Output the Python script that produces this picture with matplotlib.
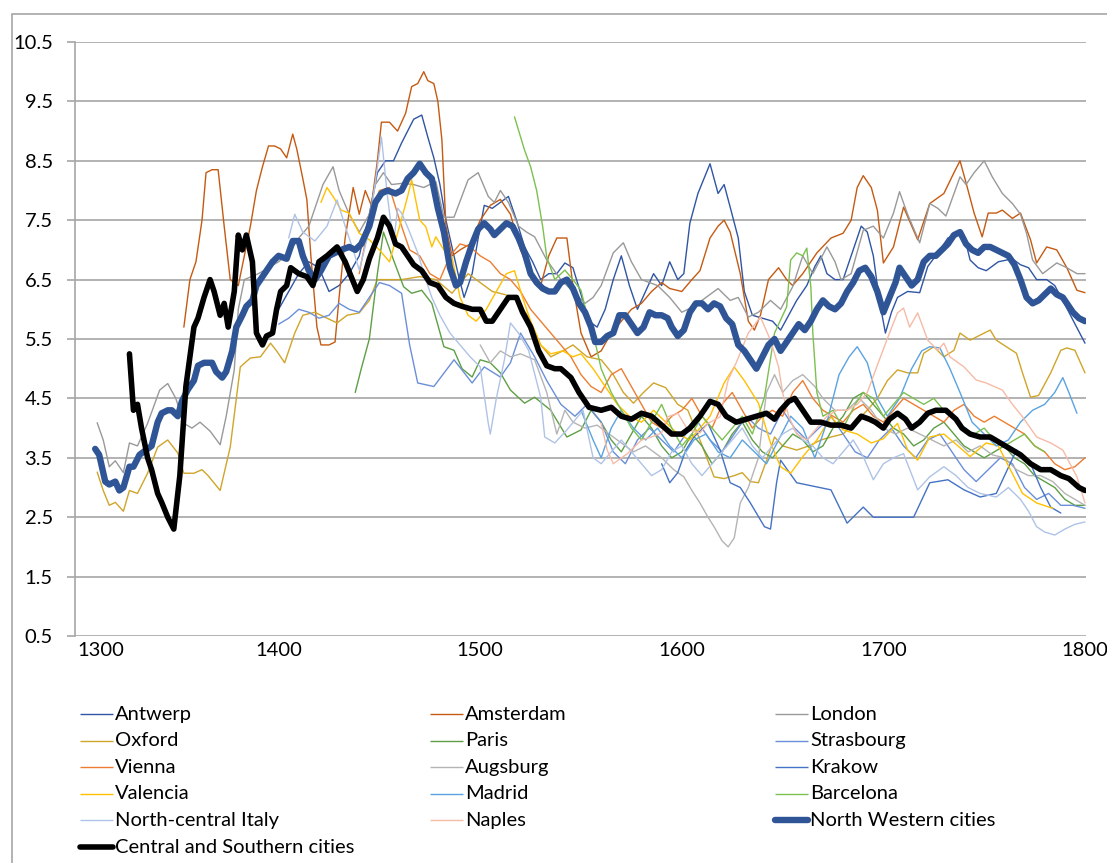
import matplotlib.pyplot as plt
from matplotlib.lines import Line2D
from matplotlib.patches import Rectangle

plt.rcParams['font.family'] = ['Lato', 'DejaVu Sans']

# ------------------------------------------------------------------
# data
# ------------------------------------------------------------------
antwerp_yr = [1400, 1405, 1410, 1415, 1420, 1425, 1430, 1435, 1440, 1445, 1449, 1453, 1457, 1461, 1464,
              1467, 1471, 1474, 1477, 1480, 1483, 1486, 1489, 1492, 1496, 1499, 1502, 1506, 1510, 1514,
              1518, 1522, 1526, 1530, 1534, 1538, 1542, 1546, 1550, 1554, 1558, 1562, 1566, 1570, 1574,
              1578, 1582, 1586, 1590, 1594, 1598, 1601, 1604, 1608, 1611, 1614, 1618, 1621, 1624, 1628,
              1631, 1635, 1640, 1645, 1649, 1653, 1657, 1662, 1666, 1669, 1672, 1676, 1680, 1685, 1689,
              1692, 1695, 1698, 1701, 1704, 1707, 1712, 1718, 1722, 1727, 1732, 1736, 1740, 1743, 1747,
              1751, 1757, 1764, 1768, 1772, 1776, 1781, 1785, 1789, 1794, 1800]
antwerp = [6.0, 6.3, 6.6, 6.8, 6.7, 6.3, 6.4, 6.6, 6.9, 7.6, 8.3, 8.5, 8.5, 8.8, 9.0,
           9.2, 9.27, 8.9, 8.55, 8.1, 7.5, 7.05, 6.6, 6.2, 6.6, 7.2, 7.75, 7.7, 7.8, 7.9,
           7.5, 7.05, 6.8, 6.5, 6.6, 6.6, 6.78, 6.7, 6.25, 5.8, 5.7, 6.0, 6.5, 6.9, 6.4,
           6.0, 6.3, 6.6, 6.4, 6.8, 6.5, 6.6, 7.45, 7.95, 8.2, 8.45, 7.95, 8.1, 7.72, 7.2,
           6.3, 5.9, 5.85, 5.8, 5.65, 5.9, 6.15, 6.4, 6.72, 6.9, 6.6, 6.5, 6.5, 7.0, 7.4,
           7.3, 6.9, 6.15, 5.6, 5.95, 6.2, 6.3, 6.28, 6.72, 6.95, 7.2, 7.25, 7.25, 6.83, 6.7,
           6.65, 6.8, 6.85, 6.75, 6.7, 6.5, 6.5, 6.4, 6.15, 5.82, 5.43]

amsterdam_yr = [1353, 1356, 1359, 1362, 1364, 1367, 1370, 1373, 1376, 1380, 1383, 1386, 1389, 1392, 1395,
                1398, 1401, 1404, 1407, 1409, 1412, 1414, 1416, 1419, 1421, 1425, 1428, 1430, 1433, 1437,
                1440, 1443, 1446, 1449, 1451, 1455, 1459, 1463, 1466, 1469, 1472, 1474, 1477, 1479, 1481,
                1483, 1486, 1490, 1495, 1500, 1505, 1510, 1515, 1520, 1525, 1530, 1534, 1538, 1543, 1546,
                1550, 1555, 1560, 1565, 1570, 1575, 1580, 1585, 1590, 1594, 1600, 1605, 1609, 1614, 1618,
                1621, 1624, 1629, 1633, 1636, 1639, 1643, 1648, 1652, 1655, 1660, 1667, 1674, 1680, 1684,
                1687, 1690, 1694, 1697, 1700, 1705, 1710, 1717, 1723, 1730, 1735, 1738, 1741, 1745, 1749,
                1752, 1756, 1759, 1764, 1768, 1773, 1776, 1781, 1786, 1791, 1796, 1800]
amsterdam = [5.7, 6.5, 6.8, 7.5, 8.3, 8.35, 8.35, 7.4, 6.5, 6.4, 6.9, 7.4, 8.0, 8.4, 8.75,
             8.75, 8.7, 8.55, 8.95, 8.7, 8.2, 7.85, 6.9, 5.7, 5.4, 5.4, 5.45, 6.2, 7.2, 8.05,
             7.6, 8.0, 7.75, 8.5, 9.15, 9.15, 9.0, 9.3, 9.75, 9.8, 10.0, 9.85, 9.8, 9.5, 8.85,
             7.4, 6.9, 7.0, 7.1, 7.5, 7.75, 7.85, 7.6, 7.0, 6.6, 6.4, 6.9, 7.2, 7.2, 6.4,
             5.6, 5.2, 5.3, 5.6, 5.8, 6.0, 6.1, 6.3, 6.45, 6.35, 6.3, 6.5, 6.65, 7.2, 7.4,
             7.5, 7.3, 6.6, 5.8, 5.65, 5.9, 6.5, 6.7, 6.5, 6.4, 6.6, 6.95, 7.2, 7.28, 7.5,
             8.05, 8.25, 8.05, 7.67, 6.78, 7.05, 7.72, 7.17, 7.78, 7.95, 8.3, 8.5, 8.13, 7.62, 7.22,
             7.62, 7.62, 7.67, 7.53, 7.62, 7.17, 6.78, 7.05, 7.0, 6.7, 6.32, 6.28]

london_yr = [1310, 1313, 1316, 1319, 1323, 1326, 1330, 1335, 1341, 1345, 1349, 1353, 1357, 1361, 1366,
             1371, 1374, 1378, 1380, 1383, 1390, 1395, 1400, 1405, 1410, 1415, 1419, 1422, 1427, 1430,
             1435, 1440, 1445, 1448, 1452, 1456, 1461, 1467, 1472, 1478, 1482, 1487, 1494, 1499, 1504,
             1507, 1510, 1514, 1519, 1523, 1527, 1533, 1540, 1546, 1552, 1556, 1560, 1566, 1571, 1575,
             1580, 1588, 1594, 1600, 1606, 1612, 1618, 1624, 1628, 1633, 1638, 1644, 1649, 1655, 1660,
             1665, 1672, 1676, 1679, 1684, 1690, 1695, 1700, 1705, 1708, 1712, 1718, 1723, 1727, 1731,
             1738, 1741, 1745, 1750, 1754, 1759, 1764, 1768, 1771, 1774, 1779, 1786, 1791, 1796, 1800]
london = [4.09, 3.8, 3.35, 3.45, 3.25, 3.75, 3.7, 4.08, 4.64, 4.75, 4.5, 4.08, 4.0, 4.1, 3.95,
          3.72, 4.2, 4.98, 6.0, 6.5, 6.6, 6.7, 6.8, 6.95, 7.2, 7.4, 7.8, 8.1, 8.4, 8.0,
          7.6, 7.3, 7.6, 8.1, 8.3, 8.1, 8.12, 8.1, 8.05, 8.15, 7.55, 7.55, 8.18, 8.3, 7.9,
          7.8, 8.0, 7.8, 7.4, 7.3, 7.22, 6.83, 6.5, 6.3, 6.1, 6.2, 6.4, 6.95, 7.12, 6.8,
          6.5, 6.4, 6.2, 5.95, 6.05, 6.2, 6.35, 6.15, 6.2, 5.87, 5.95, 6.15, 6.0, 6.38, 6.9,
          6.6, 7.05, 6.8, 6.5, 6.6, 7.33, 7.4, 7.2, 7.62, 7.98, 7.6, 7.12, 7.78, 7.7, 7.57,
          8.23, 8.1, 8.3, 8.5, 8.23, 7.95, 7.78, 7.6, 7.28, 6.83, 6.6, 6.78, 6.7, 6.6, 6.6]

oxford_yr = [1310, 1313, 1316, 1319, 1323, 1326, 1330, 1335, 1340, 1345, 1350, 1353, 1358, 1362, 1365,
             1371, 1376, 1381, 1386, 1391, 1396, 1399, 1403, 1408, 1412, 1418, 1424, 1429, 1434, 1440,
             1445, 1449, 1455, 1461, 1470, 1478, 1486, 1494, 1500, 1506, 1512, 1517, 1524, 1530, 1535,
             1541, 1546, 1553, 1560, 1566, 1571, 1576, 1581, 1586, 1592, 1598, 1603, 1609, 1616, 1621,
             1626, 1630, 1634, 1638, 1642, 1646, 1650, 1657, 1663, 1669, 1674, 1680, 1686, 1692, 1697,
             1702, 1707, 1712, 1717, 1720, 1725, 1730, 1735, 1738, 1743, 1750, 1753, 1756, 1761, 1766,
             1769, 1773, 1777, 1783, 1788, 1791, 1795, 1800]
oxford = [3.26, 2.95, 2.7, 2.75, 2.6, 2.95, 2.9, 3.24, 3.68, 3.8, 3.58, 3.24, 3.24, 3.3, 3.2,
          2.95, 3.68, 5.03, 5.18, 5.2, 5.43, 5.3, 5.1, 5.6, 5.9, 5.95, 5.85, 5.77, 5.9, 5.94,
          6.15, 6.5, 6.5, 6.5, 6.55, 6.5, 6.27, 6.6, 6.45, 6.3, 6.25, 6.2, 5.87, 5.4, 5.2,
          5.3, 5.4, 5.2, 5.15, 4.9, 4.6, 4.42, 4.6, 4.76, 4.68, 4.4, 4.3, 3.8, 3.18, 3.15,
          3.2, 3.25, 3.1, 3.08, 3.45, 3.85, 3.7, 3.63, 3.7, 3.8, 3.85, 3.9, 4.1, 4.3, 4.5,
          4.8, 4.98, 4.93, 4.93, 5.26, 5.37, 5.2, 5.31, 5.6, 5.48, 5.6, 5.65, 5.48, 5.37, 5.26,
          4.93, 4.52, 4.55, 4.93, 5.31, 5.35, 5.31, 4.93]

paris_yr = [1438, 1441, 1445, 1449, 1452, 1457, 1462, 1466, 1471, 1476, 1482, 1487, 1491, 1496, 1500,
            1505, 1510, 1515, 1522, 1527, 1535, 1543, 1550, 1555, 1560, 1565, 1570, 1575, 1580, 1585,
            1590, 1595, 1600, 1605, 1610, 1615, 1620, 1625, 1630, 1635, 1640, 1645, 1650, 1655, 1660,
            1665, 1670, 1675, 1680, 1685, 1690, 1695, 1700, 1705, 1710, 1715, 1720, 1725, 1730, 1735,
            1740, 1745, 1750, 1755, 1760, 1765, 1770, 1775, 1780, 1785, 1790, 1795, 1800]
paris = [4.6, 5.0, 5.5, 6.6, 7.3, 6.83, 6.38, 6.27, 6.32, 6.1, 5.37, 5.31, 5.0, 4.86, 5.15,
         5.1, 4.93, 4.64, 4.42, 4.52, 4.3, 3.85, 3.97, 4.3, 4.1, 3.8, 3.6, 3.9, 4.2, 4.0,
         3.7, 3.5, 3.6, 3.9, 3.7, 3.4, 3.6, 3.9, 4.1, 3.8, 3.6, 3.5, 3.7, 3.9, 3.8,
         3.6, 3.7, 4.0, 4.2, 4.5, 4.6, 4.4, 4.2, 4.0, 3.9, 3.7, 3.8, 4.0, 4.1, 3.9,
         3.7, 3.6, 3.5, 3.6, 3.7, 3.5, 3.4, 3.2, 3.1, 3.0, 2.8, 2.7, 2.7]

strasbourg_yr = [1400, 1405, 1410, 1415, 1420, 1425, 1430, 1435, 1440, 1445, 1450, 1455, 1461, 1465, 1469,
                 1477, 1487, 1496, 1502, 1510, 1515, 1520, 1527, 1533, 1540, 1547, 1553, 1560, 1566, 1572,
                 1578, 1584, 1590, 1596, 1602, 1608, 1614, 1620, 1626, 1632, 1638, 1644, 1650, 1656, 1662,
                 1668, 1674, 1680, 1686, 1692, 1698, 1704, 1710, 1716, 1722, 1728, 1734, 1740, 1746, 1752,
                 1758, 1764, 1770, 1776, 1782, 1788, 1794, 1800]
strasbourg = [5.75, 5.85, 6.0, 5.95, 5.85, 5.9, 6.1, 6.0, 5.95, 6.2, 6.45, 6.4, 6.27, 5.4, 4.76,
              4.7, 5.15, 4.76, 5.03, 4.86, 5.1, 5.6, 5.2, 4.8, 4.4, 4.2, 4.4, 4.1, 3.6, 3.4,
              3.8, 4.0, 3.8, 3.6, 3.9, 4.1, 3.8, 3.6, 3.9, 4.2, 4.0, 3.9, 4.3, 4.0, 3.8,
              4.0, 4.2, 3.9, 3.6, 3.5, 3.8, 4.0, 3.7, 3.5, 3.8, 3.9, 3.6, 3.3, 3.1, 3.3,
              3.5, 3.4, 3.0, 2.8, 2.9, 2.7, 2.7, 2.65]

vienna_yr = [1440, 1445, 1450, 1455, 1460, 1465, 1470, 1475, 1480, 1485, 1490, 1495, 1500, 1505, 1510,
             1515, 1520, 1525, 1530, 1535, 1540, 1545, 1550, 1555, 1560, 1565, 1570, 1575, 1580, 1585,
             1590, 1595, 1600, 1605, 1610, 1615, 1620, 1625, 1630, 1635, 1640, 1645, 1650, 1655, 1660,
             1665, 1670, 1675, 1680, 1685, 1690, 1695, 1700, 1705, 1710, 1715, 1720, 1725, 1730, 1735,
             1740, 1745, 1750, 1755, 1760, 1765, 1770, 1775, 1780, 1785, 1790, 1795, 1800]
vienna = [6.6, 7.5, 8.0, 8.05, 7.5, 7.0, 6.9, 6.6, 6.5, 6.9, 7.1, 7.05, 6.9, 6.8, 6.6,
          6.5, 6.3, 6.0, 5.8, 5.6, 5.4, 5.2, 4.9, 4.7, 4.6, 4.9, 5.0, 4.7, 4.4, 4.1,
          4.0, 4.2, 4.3, 4.5, 4.2, 4.0, 4.4, 4.6, 4.3, 4.0, 4.2, 4.3, 4.2, 4.6, 4.8,
          4.5, 4.3, 4.2, 4.1, 4.3, 4.4, 4.2, 4.1, 4.3, 4.5, 4.4, 4.3, 4.2, 4.1, 4.3,
          4.4, 4.2, 4.1, 4.2, 4.1, 4.0, 3.9, 3.7, 3.6, 3.4, 3.3, 3.35, 3.5]

augsburg_yr = [1500, 1505, 1510, 1515, 1520, 1527, 1533, 1538, 1542, 1546, 1552, 1558, 1564, 1570, 1576,
               1582, 1590, 1596, 1601, 1605, 1609, 1613, 1616, 1620, 1623, 1626, 1629, 1633, 1638, 1642,
               1646, 1650, 1655, 1660, 1666, 1670, 1676, 1682, 1688, 1694, 1700, 1706, 1712, 1718, 1724,
               1730, 1736, 1742, 1748, 1754, 1760, 1766, 1772, 1778, 1784, 1790, 1795, 1800]
augsburg = [5.4, 5.1, 5.3, 5.2, 5.25, 5.15, 4.6, 3.9, 4.3, 4.1, 4.0, 4.05, 3.9, 3.75, 3.6,
            3.7, 3.5, 3.3, 3.18, 2.95, 2.74, 2.5, 2.34, 2.1, 2.0, 2.15, 2.74, 3.0, 3.5, 4.6,
            4.9, 4.6, 4.8, 4.9, 4.7, 4.5, 4.3, 4.3, 4.5, 4.3, 4.0, 3.9, 4.0, 3.9, 3.8,
            3.7, 3.8, 3.6, 3.7, 3.55, 3.5, 3.3, 3.2, 3.2, 3.1, 2.9, 2.8, 2.7]

krakow_yr = [1590, 1594, 1598, 1602, 1606, 1613, 1619, 1624, 1629, 1634, 1641, 1644, 1647, 1649, 1657,
             1674, 1682, 1690, 1695, 1707, 1715, 1723, 1732, 1740, 1748, 1756, 1766, 1773, 1778, 1783,
             1788]
krakow = [3.4, 3.08, 3.25, 3.63, 3.85, 4.08, 3.63, 3.08, 3.0, 2.74, 2.34, 2.3, 3.08, 3.46, 3.08,
          2.96, 2.4, 2.67, 2.5, 2.5, 2.5, 3.08, 3.13, 2.96, 2.84, 2.9, 3.63, 3.4, 3.0, 2.67,
          2.57]

valencia_yr = [1421, 1424, 1427, 1431, 1435, 1440, 1445, 1450, 1455, 1460, 1464, 1466, 1468, 1470, 1473,
               1476, 1478, 1482, 1486, 1490, 1494, 1498, 1503, 1508, 1513, 1517, 1521, 1525, 1530, 1535,
               1541, 1546, 1550, 1556, 1562, 1568, 1574, 1580, 1586, 1592, 1598, 1604, 1609, 1614, 1621,
               1626, 1631, 1638, 1644, 1649, 1654, 1660, 1667, 1674, 1680, 1687, 1694, 1700, 1707, 1712,
               1717, 1723, 1730, 1737, 1743, 1751, 1757, 1763, 1769, 1776, 1784]
valencia = [7.8, 8.05, 7.9, 7.67, 7.62, 7.28, 7.17, 7.0, 6.8, 7.4, 7.9, 8.18, 7.84, 7.5, 7.39,
            7.05, 7.22, 7.0, 6.88, 6.2, 5.9, 5.8, 6.0, 6.3, 6.6, 6.65, 6.2, 5.8, 5.4, 5.25,
            5.3, 5.2, 5.25, 5.0, 4.7, 4.4, 4.2, 4.1, 4.3, 4.1, 3.9, 3.8, 4.0, 4.2, 4.76,
            5.03, 4.8, 4.42, 3.75, 3.35, 3.24, 3.52, 3.8, 4.19, 3.97, 3.9, 3.75, 3.82, 4.08, 3.63,
            3.46, 3.85, 3.9, 3.7, 3.52, 3.75, 3.7, 3.3, 2.9, 2.74, 2.65]

madrid_yr = [1550, 1556, 1560, 1565, 1570, 1576, 1582, 1588, 1594, 1600, 1606, 1612, 1618, 1624, 1630,
             1636, 1642, 1648, 1654, 1660, 1666, 1672, 1678, 1683, 1687, 1692, 1697, 1702, 1708, 1714,
             1719, 1723, 1728, 1733, 1738, 1744, 1750, 1756, 1762, 1768, 1774, 1780, 1785, 1789, 1792,
             1796]
madrid = [4.3, 3.8, 3.5, 4.0, 4.3, 4.0, 3.8, 4.0, 3.7, 3.5, 3.8, 3.9, 3.6, 3.5, 3.8,
          3.6, 3.4, 3.8, 4.2, 4.0, 3.5, 4.1, 4.9, 5.2, 5.37, 5.1, 4.5, 4.2, 4.5, 5.0,
          5.3, 5.37, 5.35, 5.0, 4.6, 4.1, 3.9, 3.7, 3.8, 4.1, 4.3, 4.4, 4.6, 4.85, 4.6,
          4.25]

barcelona_yr = [1517, 1522, 1525, 1528, 1531, 1533, 1537, 1542, 1546, 1550, 1553, 1556, 1560, 1565, 1570,
                1575, 1580, 1585, 1590, 1595, 1600, 1605, 1610, 1615, 1620, 1625, 1630, 1635, 1641, 1646,
                1652, 1654, 1657, 1660, 1662, 1664, 1665, 1667, 1670, 1675, 1680, 1686, 1690, 1695, 1700,
                1705, 1710, 1715, 1720, 1725, 1730, 1735, 1740, 1745, 1750, 1755, 1760, 1765, 1770, 1775,
                1780]
barcelona = [9.24, 8.68, 8.4, 8.0, 7.39, 6.88, 6.5, 6.66, 6.5, 6.32, 5.9, 5.6, 5.0, 4.6, 4.3,
             4.0, 3.8, 4.1, 4.4, 4.0, 3.7, 3.9, 4.2, 4.0, 3.8, 4.0, 4.2, 3.9, 4.52, 5.6,
             6.04, 6.83, 6.95, 6.9, 7.03, 6.38, 5.6, 4.6, 4.2, 4.3, 4.0, 4.4, 4.6, 4.5, 4.2,
             4.4, 4.6, 4.5, 4.4, 4.5, 4.3, 4.2, 4.0, 3.9, 4.0, 3.8, 3.7, 3.8, 3.9, 3.7,
             3.6]

nci_yr = [1405, 1408, 1412, 1418, 1424, 1429, 1433, 1437, 1440, 1444, 1447, 1451, 1454, 1457, 1459,
          1461, 1465, 1469, 1473, 1476, 1480, 1485, 1490, 1495, 1500, 1504, 1505, 1508, 1512, 1515,
          1519, 1524, 1530, 1532, 1537, 1543, 1551, 1556, 1560, 1565, 1570, 1575, 1580, 1585, 1590,
          1595, 1600, 1605, 1610, 1615, 1620, 1625, 1630, 1635, 1640, 1645, 1650, 1655, 1660, 1665,
          1670, 1675, 1680, 1685, 1690, 1695, 1700, 1705, 1710, 1717, 1723, 1730, 1736, 1742, 1748,
          1756, 1762, 1768, 1772, 1776, 1780, 1785, 1790, 1795, 1800]
nci = [7.2, 7.6, 7.3, 7.15, 7.4, 7.84, 7.4, 7.0, 6.66, 7.2, 7.9, 8.9, 7.9, 7.1, 7.7,
       7.62, 7.3, 6.95, 6.5, 6.2, 5.9, 5.6, 5.4, 5.2, 5.03, 4.08, 3.9, 4.5, 5.15, 5.77,
       5.6, 5.31, 4.52, 3.85, 3.75, 3.97, 4.3, 3.5, 3.4, 3.6, 3.8, 3.6, 3.4, 3.2, 3.3,
       3.6, 3.7, 3.4, 3.2, 3.4, 3.6, 3.8, 4.0, 3.7, 3.5, 3.7, 3.9, 4.0, 3.8, 3.7,
       3.5, 3.4, 3.6, 3.8, 3.52, 3.13, 3.4, 3.5, 3.57, 2.96, 3.18, 3.35, 3.2, 3.0, 2.9,
       2.84, 3.0, 2.8, 2.6, 2.34, 2.25, 2.2, 2.3, 2.38, 2.42]

naples_yr = [1560, 1563, 1566, 1573, 1580, 1585, 1590, 1593, 1598, 1603, 1609, 1613, 1619, 1623, 1627,
             1633, 1639, 1644, 1648, 1650, 1653, 1657, 1662, 1667, 1672, 1677, 1682, 1687, 1692, 1698,
             1703, 1707, 1710, 1713, 1717, 1722, 1727, 1730, 1733, 1740, 1746, 1751, 1759, 1764, 1769,
             1776, 1783, 1789, 1796, 1800]
naples = [4.08, 3.63, 3.4, 3.57, 3.8, 3.85, 3.92, 4.19, 4.25, 3.97, 3.92, 4.08, 4.19, 4.81, 5.1,
          5.6, 5.87, 5.48, 5.03, 4.6, 4.2, 3.9, 3.8, 4.0, 4.2, 4.3, 4.3, 4.4, 4.6, 5.15,
          5.6, 5.94, 6.02, 5.7, 5.94, 5.48, 5.31, 5.43, 5.2, 5.03, 4.81, 4.76, 4.64, 4.4, 4.19,
          3.85, 3.75, 3.63, 3.18, 2.74]

nw_yr = [1309, 1311, 1314, 1316, 1319, 1321, 1323, 1326, 1328, 1331, 1335, 1337, 1340, 1342, 1345,
         1347, 1350, 1352, 1355, 1358, 1360, 1363, 1367, 1369, 1372, 1374, 1377, 1379, 1382, 1384,
         1387, 1389, 1393, 1397, 1400, 1404, 1407, 1410, 1412, 1415, 1418, 1421, 1425, 1428, 1431,
         1435, 1438, 1441, 1445, 1448, 1451, 1454, 1458, 1461, 1464, 1467, 1470, 1473, 1476, 1479,
         1482, 1485, 1488, 1490, 1493, 1496, 1499, 1502, 1505, 1507, 1510, 1513, 1516, 1519, 1522,
         1525, 1528, 1531, 1534, 1537, 1540, 1543, 1546, 1549, 1552, 1555, 1557, 1560, 1563, 1566,
         1569, 1572, 1575, 1578, 1581, 1584, 1587, 1590, 1593, 1595, 1598, 1601, 1604, 1607, 1610,
         1613, 1616, 1619, 1622, 1625, 1628, 1631, 1634, 1637, 1640, 1643, 1646, 1649, 1652, 1655,
         1658, 1661, 1664, 1667, 1670, 1673, 1676, 1679, 1682, 1685, 1688, 1691, 1694, 1697, 1700,
         1703, 1706, 1708, 1711, 1714, 1717, 1720, 1723, 1726, 1729, 1732, 1735, 1738, 1741, 1744,
         1747, 1750, 1753, 1756, 1759, 1762, 1765, 1768, 1771, 1774, 1777, 1780, 1783, 1786, 1789,
         1792, 1794, 1797, 1800]
nw = [3.65, 3.55, 3.1, 3.05, 3.1, 2.95, 3.0, 3.35, 3.35, 3.55, 3.65, 3.7, 4.1, 4.25, 4.3,
      4.3, 4.2, 4.45, 4.65, 4.8, 5.05, 5.1, 5.1, 4.95, 4.85, 4.95, 5.3, 5.7, 5.9, 6.05,
      6.15, 6.4, 6.6, 6.8, 6.9, 6.85, 7.15, 7.15, 6.9, 6.65, 6.5, 6.65, 6.9, 6.95, 7.0,
      7.05, 7.0, 7.1, 7.4, 7.8, 7.95, 8.0, 7.95, 8.0, 8.2, 8.3, 8.45, 8.3, 8.2, 7.7,
      7.3, 6.7, 6.4, 6.45, 6.8, 7.1, 7.35, 7.45, 7.35, 7.25, 7.35, 7.45, 7.4, 7.2, 6.95,
      6.6, 6.45, 6.35, 6.3, 6.3, 6.45, 6.5, 6.35, 6.1, 5.95, 5.7, 5.45, 5.45, 5.55, 5.6,
      5.9, 5.9, 5.75, 5.6, 5.7, 5.95, 5.9, 5.9, 5.85, 5.7, 5.55, 5.65, 5.95, 6.1, 6.1,
      6.0, 6.1, 6.05, 5.85, 5.75, 5.4, 5.3, 5.15, 5.0, 5.2, 5.4, 5.5, 5.3, 5.45, 5.6,
      5.75, 5.65, 5.8, 6.0, 6.15, 6.05, 6.0, 6.1, 6.3, 6.45, 6.65, 6.7, 6.55, 6.3, 5.95,
      6.2, 6.45, 6.7, 6.55, 6.4, 6.5, 6.8, 6.9, 6.9, 7.0, 7.1, 7.25, 7.3, 7.1, 7.0,
      6.95, 7.05, 7.05, 7.0, 6.95, 6.9, 6.75, 6.5, 6.2, 6.1, 6.15, 6.25, 6.35, 6.25, 6.2,
      6.05, 5.95, 5.85, 5.8]

cs_yr = [1326, 1328, 1330, 1332, 1335, 1337, 1340, 1342, 1345, 1348, 1351, 1354, 1358, 1360, 1363,
         1366, 1368, 1371, 1373, 1375, 1378, 1380, 1382, 1384, 1387, 1389, 1392, 1394, 1397, 1399,
         1401, 1404, 1406, 1410, 1414, 1417, 1420, 1424, 1429, 1433, 1436, 1439, 1442, 1445, 1449,
         1452, 1455, 1458, 1461, 1464, 1467, 1471, 1475, 1479, 1483, 1487, 1491, 1496, 1500, 1503,
         1506, 1510, 1514, 1518, 1521, 1525, 1529, 1533, 1537, 1540, 1545, 1549, 1554, 1560, 1565,
         1570, 1575, 1580, 1585, 1590, 1595, 1600, 1604, 1609, 1614, 1618, 1622, 1627, 1632, 1637,
         1642, 1646, 1649, 1653, 1656, 1660, 1664, 1669, 1674, 1679, 1684, 1689, 1693, 1696, 1700,
         1703, 1707, 1711, 1714, 1718, 1722, 1726, 1731, 1736, 1739, 1743, 1748, 1753, 1758, 1763,
         1768, 1773, 1778, 1783, 1788, 1792, 1797, 1800]
cs = [5.25, 4.3, 4.4, 4.0, 3.5, 3.3, 2.9, 2.75, 2.5, 2.3, 3.2, 4.7, 5.7, 5.85, 6.2,
      6.5, 6.3, 5.9, 6.1, 5.7, 6.3, 7.25, 7.0, 7.25, 6.8, 5.6, 5.4, 5.55, 5.6, 6.0,
      6.3, 6.4, 6.7, 6.6, 6.55, 6.4, 6.8, 6.9, 7.05, 6.8, 6.55, 6.3, 6.5, 6.85, 7.2,
      7.55, 7.4, 7.1, 7.05, 6.9, 6.75, 6.65, 6.45, 6.4, 6.2, 6.1, 6.05, 6.0, 6.0, 5.8,
      5.8, 6.0, 6.2, 6.2, 5.95, 5.7, 5.3, 5.05, 5.0, 5.0, 4.85, 4.6, 4.35, 4.3, 4.35,
      4.2, 4.15, 4.25, 4.2, 4.05, 3.9, 3.9, 4.0, 4.2, 4.45, 4.4, 4.2, 4.1, 4.15, 4.2,
      4.25, 4.15, 4.3, 4.45, 4.5, 4.3, 4.1, 4.1, 4.05, 4.05, 4.0, 4.2, 4.15, 4.1, 4.0,
      4.15, 4.25, 4.15, 4.0, 4.1, 4.25, 4.3, 4.3, 4.15, 4.0, 3.9, 3.85, 3.85, 3.75, 3.65,
      3.55, 3.4, 3.3, 3.3, 3.2, 3.15, 3.0, 2.95]

# label, years, values, colour, width  (legend order, row by row)
series = [
    ("Antwerp", antwerp_yr, antwerp, "#2F55A4", 1.0),
    ("Amsterdam", amsterdam_yr, amsterdam, "#C55A11", 1.0),
    ("London", london_yr, london, "#999999", 1.0),
    ("Oxford", oxford_yr, oxford, "#CFA52A", 1.0),
    ("Paris", paris_yr, paris, "#5E9F45", 1.0),
    ("Strasbourg", strasbourg_yr, strasbourg, "#6A8FD8", 1.0),
    ("Vienna", vienna_yr, vienna, "#ED7D31", 1.0),
    ("Augsburg", augsburg_yr, augsburg, "#B4B4B4", 1.0),
    ("Krakow", krakow_yr, krakow, "#4472C4", 1.0),
    ("Valencia", valencia_yr, valencia, "#FFC000", 1.0),
    ("Madrid", madrid_yr, madrid, "#5BA3E0", 1.0),
    ("Barcelona", barcelona_yr, barcelona, "#7CC050", 1.0),
    ("North-central Italy", nci_yr, nci, "#AFC3E6", 1.0),
    ("Naples", naples_yr, naples, "#F6BBA6", 1.0),
    ("North Western cities", nw_yr, nw, "#2F5597", 4.6),
    ("Central and Southern cities", cs_yr, cs, "#000000", 4.0),
]

# ------------------------------------------------------------------
# figure
# ------------------------------------------------------------------
W, H = 1107, 863
FS = 14.5
fig = plt.figure(figsize=(W / 100, H / 100), dpi=100)
ax = fig.add_axes([75 / W, 1 - 636 / H, (1086 - 75) / W, (636 - 42) / H])

for name, yr, val, col, lw in series:
    ax.plot(yr, val, color=col, lw=lw, solid_joinstyle="round", solid_capstyle="round")

ax.set_xlim(1299, 1800.5)
ax.set_ylim(0.5, 10.5)
ax.set_yticks([0.5 + i for i in range(11)])
ax.set_yticklabels([f"{0.5 + i:.1f}" for i in range(11)])
ax.set_xticks([1300, 1400, 1500, 1600, 1700, 1800])
ax.yaxis.grid(True, color="#A6A6A6", lw=1.2)
ax.set_axisbelow(True)
for s in ["top", "right", "bottom"]:
    ax.spines[s].set_visible(False)
ax.spines["left"].set_color("#A6A6A6")
ax.spines["left"].set_linewidth(1.2)
ax.tick_params(axis="y", length=6, color="#A6A6A6", width=1.2, labelsize=FS, pad=10)
ax.tick_params(axis="x", length=0, labelsize=FS, pad=4)
# first year label sits inside the plot, like the original
ax.get_xticklabels()[0].set_horizontalalignment("left")

# outer chart frame (cut off on the right / bottom as in the original)
fig.add_artist(Rectangle((12 / W, -0.2), 1.2, 1 - 14 / H + 0.2, transform=fig.transFigure,
                         fill=False, edgecolor="#A6A6A6", lw=1.2))

# legend: three columns, filled row by row
col_x = [80, 430, 775]
row_y0, row_dy = 714, 26.6
for i, (name, yr, val, col, lw) in enumerate(series):
    r, c = divmod(i, 3)
    x0 = col_x[c]
    yy = 1 - (row_y0 + r * row_dy) / H
    fig.add_artist(Line2D([x0 / W, (x0 + 33) / W], [yy, yy], transform=fig.transFigure,
                          color=col, lw=lw, solid_capstyle="round" if lw > 2 else "butt"))
    fig.text((x0 + 35) / W, yy, name, fontsize=FS, va="center", ha="left")

fig.savefig("out.png", dpi=100)
